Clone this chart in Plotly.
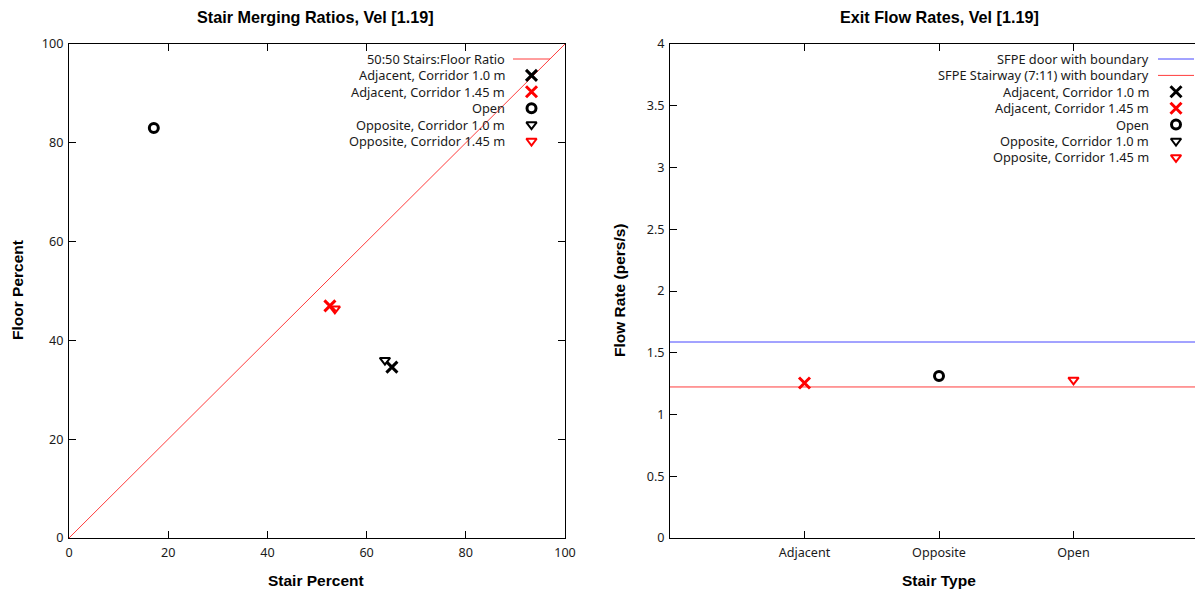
import plotly.graph_objects as go

OFF = 8                 # page body margin offset of the figure in the browser
W, H = 1203 - 2 * OFF, 592 - OFF   # keep the figure inside the viewport

# ---------------- data ----------------
# Left panel: stair vs floor percentages
ratio_line_x = [0, 100]
ratio_line_y = [0, 100]
adj10_stair = [65.1]; adj10_floor = [34.6]
adj145_stair = [52.6]; adj145_floor = [47.0]
open_stair = [17.1]; open_floor = [83.0]
opp10_stair = [63.7]; opp10_floor = [36.0]
opp145_stair = [53.6]; opp145_floor = [46.4]

# Right panel: exit flow rates
stair_types = ["Adjacent", "Opposite", "Open"]
sfpe_door = 1.587
sfpe_stair = 1.223
adj10_type = []; adj10_flow = []
adj145_type = ["Adjacent"]; adj145_flow = [1.255]
open_type = ["Opposite"]; open_flow = [1.312]
opp10_type = []; opp10_flow = []
opp145_type = ["Open"]; opp145_flow = [1.28]

left_y_ticks = [0, 20, 40, 60, 80, 100]
right_y_ticks = [0, 0.5, 1, 1.5, 2, 2.5, 3, 3.5, 4]
right_y_labels = ["0", "0.5", "1", "1.5", "2", "2.5", "3", "3.5", "4"]

# ---------------- styles ----------------
RED = "#ff0000"
LRED = "#ff3c3c"
BLUE = "#4646ff"
BLACK = "#000000"
TICKFONT = dict(family="Noto Sans", size=12.6, color="#1a1a1a")
TITLEFONT = dict(family="Liberation Sans", size=16.2, color="#000")
AXTITLEFONT = dict(family="Liberation Sans", size=15.5, color="#000")
LEGFONT = dict(family="Noto Sans", size=12.8, color="#1a1a1a")

# pixel layout (page pixels)
L0, L1 = 69, 565
R0, R1 = 670, OFF + W
T, B = 44, 538
CAT_PX = 134.5

def px_x(p):
    return (p - OFF) / W

def px_y(p):
    return 1 - (p - OFF) / H

mk = dict(
    x=dict(symbol="x-thin-open", size=11, line=dict(width=3)),
    o=dict(symbol="circle-open", size=9, line=dict(width=3)),
    v=dict(symbol="triangle-down-open", size=9, line=dict(width=2)),
)

def marker(kind, color):
    m = dict(mk[kind])
    m["color"] = color
    m["line"] = dict(m["line"], color=color)
    return m

fig = go.Figure()

# left panel
fig.add_trace(go.Scatter(x=ratio_line_x, y=ratio_line_y, mode="lines",
                         line=dict(color=LRED, width=1), xaxis="x", yaxis="y"))
for xs, ys, kind, col in [
    (adj10_stair, adj10_floor, "x", BLACK),
    (adj145_stair, adj145_floor, "x", RED),
    (open_stair, open_floor, "o", BLACK),
    (opp10_stair, opp10_floor, "v", BLACK),
    (opp145_stair, opp145_floor, "v", RED),
]:
    fig.add_trace(go.Scatter(x=xs, y=ys, mode="markers", marker=marker(kind, col),
                             xaxis="x", yaxis="y"))

# right panel
x2_max = (R1 - R0) / CAT_PX - 1
fig.add_trace(go.Scatter(x=[-1, x2_max], y=[sfpe_door, sfpe_door], mode="lines",
                         line=dict(color=BLUE, width=1), xaxis="x2", yaxis="y2"))
fig.add_trace(go.Scatter(x=[-1, x2_max], y=[sfpe_stair, sfpe_stair], mode="lines",
                         line=dict(color=LRED, width=1), xaxis="x2", yaxis="y2"))
for xs, ys, kind, col in [
    (adj10_type, adj10_flow, "x", BLACK),
    (adj145_type, adj145_flow, "x", RED),
    (open_type, open_flow, "o", BLACK),
    (opp10_type, opp10_flow, "v", BLACK),
    (opp145_type, opp145_flow, "v", RED),
]:
    idx = [stair_types.index(s) for s in xs]
    fig.add_trace(go.Scatter(x=idx, y=ys, mode="markers", marker=marker(kind, col),
                             xaxis="x2", yaxis="y2"))

# ---------------- legends (gnuplot style: text right, key at right) ----------------
annotations = []
legend_left = [
    ("50:50 Stairs:Floor Ratio", "line", LRED),
    ("Adjacent, Corridor 1.0 m", "x", BLACK),
    ("Adjacent, Corridor 1.45 m", "x", RED),
    ("Open", "o", BLACK),
    ("Opposite, Corridor 1.0 m", "v", BLACK),
    ("Opposite, Corridor 1.45 m", "v", RED),
]
legend_right = [
    ("SFPE door with boundary", "line", BLUE),
    ("SFPE Stairway (7:11) with boundary", "line", LRED),
    ("Adjacent, Corridor 1.0 m", "x", BLACK),
    ("Adjacent, Corridor 1.45 m", "x", RED),
    ("Open", "o", BLACK),
    ("Opposite, Corridor 1.0 m", "v", BLACK),
    ("Opposite, Corridor 1.45 m", "v", RED),
]

def add_legend(items, text_right, key_x0, key_x1, y0, dy):
    for i, (label, kind, col) in enumerate(items):
        yy = y0 + i * dy
        annotations.append(dict(text=label, x=px_x(text_right), y=px_y(yy), xref="paper",
                                yref="paper", xanchor="right", yanchor="middle",
                                showarrow=False, font=LEGFONT))
        if kind == "line":
            fig.add_trace(go.Scatter(x=[key_x0, key_x1], y=[yy, yy], mode="lines",
                                     line=dict(color=col, width=1), xaxis="x3", yaxis="y3"))
        else:
            fig.add_trace(go.Scatter(x=[(key_x0 + key_x1) / 2], y=[yy], mode="markers",
                                     marker=marker(kind, col), xaxis="x3", yaxis="y3"))

add_legend(legend_left, 507, 513, 550, 59, 16.4)
add_legend(legend_right, 1151, 1158, 1194, 59, 16.4)

# titles
def title(text, x, y, font, angle=0):
    annotations.append(dict(text="<b>%s</b>" % text, x=px_x(x), y=px_y(y), xref="paper",
                            yref="paper", xanchor="center", yanchor="middle",
                            showarrow=False, font=font, textangle=angle))

title("Stair Merging Ratios, Vel [1.19]", 316, 17, TITLEFONT)
title("Exit Flow Rates, Vel [1.19]", 939, 17, TITLEFONT)
title("Stair Percent", 316, 580, AXTITLEFONT)
title("Floor Percent", 17, 290, AXTITLEFONT, -90)
title("Stair Type", 939, 580, AXTITLEFONT)
title("Flow Rate (pers/s)", 619, 290, AXTITLEFONT, -90)

axis_common = dict(showgrid=False, zeroline=False, showline=True, linecolor="#000",
                   linewidth=1, mirror="ticks", ticks="inside", ticklen=7,
                   tickcolor="#000", tickfont=TICKFONT, fixedrange=True,
                   automargin=False)

fig.update_layout(
    width=W, height=H, margin=dict(l=0, r=0, t=0, b=0, pad=0, autoexpand=False),
    paper_bgcolor="white", plot_bgcolor="rgba(0,0,0,0)", showlegend=False,
    annotations=annotations,
    xaxis=dict(axis_common, domain=[px_x(L0), px_x(L1)], range=[0, 100],
               tickvals=left_y_ticks, anchor="y", ticklabelstandoff=3),
    yaxis=dict(axis_common, domain=[px_y(B), px_y(T)], range=[0, 100],
               tickvals=left_y_ticks, anchor="x", ticklabelstandoff=2),
    xaxis2=dict(axis_common, domain=[px_x(R0), 1], range=[-1, x2_max],
                tickvals=[0, 1, 2], ticktext=stair_types, anchor="y2", ticklabelstandoff=3),
    yaxis2=dict(axis_common, domain=[px_y(B), px_y(T)], range=[0, 4], mirror=False,
                tickvals=right_y_ticks, ticktext=right_y_labels, anchor="x2",
                ticklabelstandoff=2),
    xaxis3=dict(domain=[0, 1], range=[OFF, W + OFF], visible=False, anchor="y3",
                fixedrange=True),
    yaxis3=dict(domain=[0, 1], range=[H + OFF, OFF], visible=False, anchor="x3",
                fixedrange=True),
)
for tr in fig.data:
    tr.hoverinfo = "skip"

fig.write_html("out.html")
